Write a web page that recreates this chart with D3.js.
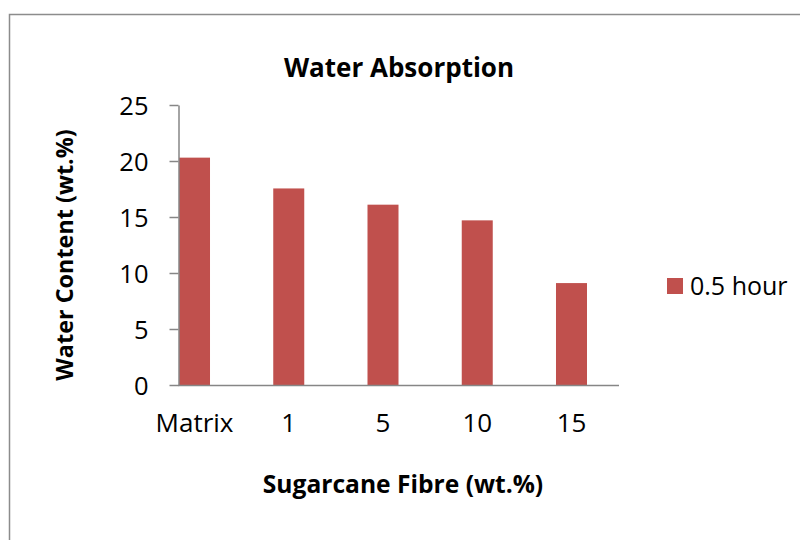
<!DOCTYPE html>
<html>
<head>
<meta charset="utf-8">
<script src="https://cdn.jsdelivr.net/npm/d3@7"></script>
<style>
  body { margin: 0; background: #fff; }
  svg text { font-family: "Open Sans", "Noto Sans", sans-serif; fill: #000; }
</style>
</head>
<body>
<script>
// data
const categories = ["Matrix", "1", "5", "10", "15"];
const waterContent = [20.3, 17.55, 16.1, 14.7, 9.1];
const seriesName = "0.5 hour";
const yTicks = [0, 5, 10, 15, 20, 25];

const width = 800, height = 540;
const barColor = "#C0504D";
const axisColor = "#868686";
const font = "'Open Sans', sans-serif";

const svg = d3.select("body").append("svg")
    .attr("width", width)
    .attr("height", height);

// outer chart frame (runs off the right and bottom edge)
svg.append("rect")
    .attr("x", 9.5).attr("y", 14.5)
    .attr("width", 820).attr("height", 560)
    .attr("fill", "none")
    .attr("stroke", "#8c8c8c")
    .attr("stroke-width", 1.5);

const yScale = d3.scaleLinear().domain([0, 25]).range([385, 105]);
const xScale = d3.scaleBand()
    .domain(categories)
    .range([179, 587])
    .paddingInner(0.671)
    .paddingOuter(0);

// bars
svg.append("g")
    .selectAll("rect")
    .data(waterContent)
    .join("rect")
    .attr("x", (d, i) => xScale(categories[i]))
    .attr("y", d => yScale(d))
    .attr("width", xScale.bandwidth())
    .attr("height", d => yScale(0) - yScale(d))
    .attr("fill", barColor);

// y axis
const yAxis = svg.append("g")
    .attr("transform", "translate(178.5,0)")
    .call(d3.axisLeft(yScale).tickValues(yTicks).tickSizeInner(9).tickSizeOuter(0).tickPadding(21));
yAxis.selectAll("path, line").attr("stroke", axisColor).attr("stroke-width", 1.5);
yAxis.selectAll("text")
    .attr("font-size", 25.5)
    .attr("font-family", font)
    .attr("dy", "0.36em");

// x axis line
svg.append("line")
    .attr("x1", 178).attr("x2", 619)
    .attr("y1", yScale(0) + 0.5).attr("y2", yScale(0) + 0.5)
    .attr("stroke", axisColor)
    .attr("stroke-width", 1.5);

// x tick labels
const xAxis = svg.append("g")
    .attr("transform", `translate(0,${yScale(0)})`)
    .call(d3.axisBottom(xScale).tickSize(0).tickPadding(0));
xAxis.select(".domain").remove();
xAxis.selectAll("text")
    .attr("font-size", 26)
    .attr("font-family", font)
    .attr("dy", null)
    .attr("y", 47);

// title
svg.append("text")
    .attr("x", 399).attr("y", 77)
    .attr("text-anchor", "middle")
    .attr("font-size", 26)
    .attr("font-weight", "bold")
    .text("Water Absorption");

// axis titles
svg.append("text")
    .attr("x", 403).attr("y", 493)
    .attr("text-anchor", "middle")
    .attr("font-size", 24.6)
    .attr("font-weight", "bold")
    .text("Sugarcane Fibre (wt.%)");

svg.append("text")
    .attr("transform", "translate(73,255) rotate(-90)")
    .attr("text-anchor", "middle")
    .attr("font-size", 23.4)
    .attr("font-weight", "bold")
    .text("Water Content (wt.%)");

// legend
const legend = svg.append("g").attr("transform", "translate(667,278)");
legend.append("rect")
    .attr("width", 16).attr("height", 16)
    .attr("fill", barColor);
legend.append("text")
    .attr("x", 23).attr("y", 16.5)
    .attr("font-size", 25)
    .text(seriesName);
</script>
</body>
</html>
